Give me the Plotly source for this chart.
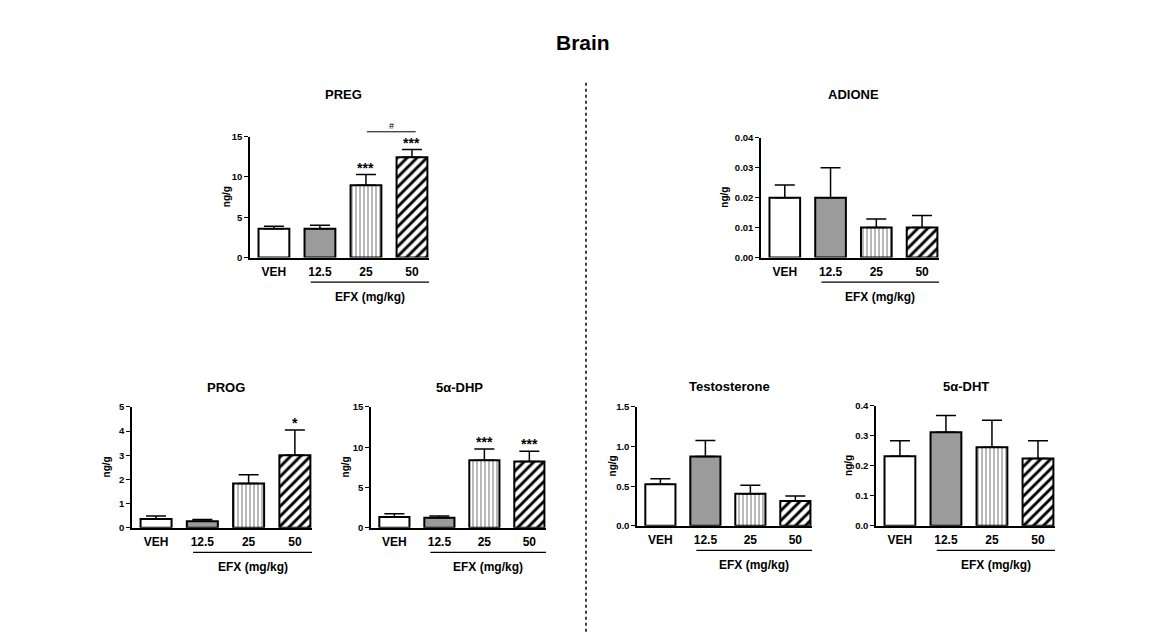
import plotly.graph_objects as go

# ---------------- data ----------------
categories = ["VEH", "12.5", "25", "50"]

preg_mean = [3.57, 3.57, 8.98, 12.44]
preg_sem = [0.33, 0.43, 1.32, 0.96]
preg_sig = ["", "", "***", "***"]

adione_mean = [0.020, 0.020, 0.010, 0.010]
adione_sem = [0.0042, 0.010, 0.0029, 0.0040]
adione_sig = ["", "", "", ""]

prog_mean = [0.37, 0.27, 1.83, 3.00]
prog_sem = [0.12, 0.07, 0.37, 1.05]
prog_sig = ["", "", "", "*"]

dhp_mean = [1.35, 1.26, 8.40, 8.23]
dhp_sem = [0.40, 0.21, 1.38, 1.27]
dhp_sig = ["", "", "***", "***"]

testo_mean = [0.525, 0.876, 0.405, 0.314]
testo_sem = [0.070, 0.202, 0.107, 0.062]
testo_sig = ["", "", "", ""]

dht_mean = [0.232, 0.312, 0.262, 0.225]
dht_sem = [0.052, 0.056, 0.090, 0.059]
dht_sig = ["", "", "", ""]

titles = ["PREG", "ADIONE", "PROG", "5α-DHP", "Testosterone", "5α-DHT"]
ymaxes = [15, 0.04, 5, 15, 1.5, 0.4]
dticks = [5, 0.01, 1, 5, 0.5, 0.1]
tickformats = ["d", ".2f", "d", "d", ".1f", ".1f"]
xlabel = "EFX (mg/kg)"
ylabel = "ng/g"
main_title = "Brain"

# ---------------- geometry (pixels) ----------------
W, H = 1163, 637
# (axis x left, axis x right, y top, y bottom, title x center, title y, ylabel x)
geom = [
    (250, 429, 133, 256, 343, 90, 226),
    (761, 939, 134, 256, 853, 90, 725),
    (132, 312, 408, 531, 226, 388, 106),
    (371, 546, 408, 531, 460, 388, 345),
    (637, 812, 408, 529, 729, 387, 612),
    (876, 1055, 407, 529, 966, 387, 849),
]
XR = (-0.52, 3.37)


def px(x):
    return x / W


def py(y):
    return 1 - y / H


def data_to_px(g, xv):
    x0, x1 = g[0], g[1]
    return x0 + (xv - XR[0]) / (XR[1] - XR[0]) * (x1 - x0)


FONT = "Arial, 'Liberation Sans', sans-serif"

means = [preg_mean, adione_mean, prog_mean, dhp_mean, testo_mean, dht_mean]
sems = [preg_sem, adione_sem, prog_sem, dhp_sem, testo_sem, dht_sem]
sigs = [preg_sig, adione_sig, prog_sig, dhp_sig, testo_sig, dht_sig]

# per-group style
group_styles = [
    dict(color="white"),
    dict(color="#9b9b9b"),
    dict(color="white", pattern=dict(shape="|", fgcolor="#8a8a8a", bgcolor="white",
                                     size=4, solidity=0.3, fillmode="replace")),
    dict(color="white", pattern=dict(shape="/", fgcolor="black", bgcolor="white",
                                     size=7, solidity=0.42, fillmode="replace")),
]

fig = go.Figure()
annotations = []
shapes = []

for i in range(6):
    g = geom[i]
    xa = "x" if i == 0 else f"x{i+1}"
    ya = "y" if i == 0 else f"y{i+1}"
    xl = "xaxis" if i == 0 else f"xaxis{i+1}"
    yl = "yaxis" if i == 0 else f"yaxis{i+1}"

    for j in range(len(categories)):
        mk = dict(group_styles[j])
        mk["line"] = dict(color="black", width=2)
        fig.add_trace(go.Bar(
            x=[j], y=[means[i][j]], width=0.67,
            marker=mk,
            error_y=dict(type="data", array=[sems[i][j]], arrayminus=[0],
                         symmetric=False, color="black", thickness=1.5, width=10),
            xaxis=xa, yaxis=ya, showlegend=False, cliponaxis=False,
            name=categories[j],
        ))

    fig.layout[xl] = dict(
        domain=[px(g[0]), px(g[1])], range=list(XR), anchor=ya,
        showline=True, linecolor="black", linewidth=1.5,
        showgrid=False, zeroline=False,
        tickmode="array", tickvals=list(range(4)), ticktext=categories,
        ticks="outside", ticklen=2, tickcolor="rgba(0,0,0,0)",
        tickfont=dict(family=FONT, size=12, color="black", weight="bold"),
        fixedrange=True,
    )
    fig.layout[yl] = dict(
        domain=[py(g[3]), py(g[2])], range=[0, ymaxes[i]], anchor=xa,
        showline=True, linecolor="black", linewidth=1.5,
        showgrid=False, zeroline=False,
        dtick=dticks[i], tick0=0, tickformat=tickformats[i],
        ticks="outside", ticklen=4, tickwidth=1.2, tickcolor="black",
        tickfont=dict(family=FONT, size=9.5, color="black", weight="bold"),
        fixedrange=True,
    )

    # panel title
    annotations.append(dict(
        text=titles[i], x=px(g[4]), y=py(g[5]), xref="paper", yref="paper",
        xanchor="center", yanchor="middle", showarrow=False,
        font=dict(family=FONT, size=13, color="black", weight="bold")))
    # y label
    annotations.append(dict(
        text=ylabel, x=px(g[6]), y=py((g[2] + g[3]) / 2), xref="paper", yref="paper",
        xanchor="center", yanchor="middle", showarrow=False, textangle=-90,
        font=dict(family=FONT, size=10, color="black", weight="bold")))
    # EFX underline and label
    ux0 = data_to_px(g, 0.8)
    ux1 = g[1]
    uy = g[3] + 25
    shapes.append(dict(type="line", xref="paper", yref="paper",
                       x0=px(ux0), x1=px(ux1), y0=py(uy), y1=py(uy),
                       line=dict(color="black", width=1.2)))
    annotations.append(dict(
        text=xlabel, x=px((ux0 + ux1) / 2), y=py(uy + 15), xref="paper", yref="paper",
        xanchor="center", yanchor="middle", showarrow=False,
        font=dict(family=FONT, size=12, color="black", weight="bold")))
    # significance stars
    for j, s in enumerate(sigs[i]):
        if s:
            annotations.append(dict(
                text=s, x=j, y=means[i][j] + sems[i][j], xref=xa, yref=ya,
                xanchor="center", yanchor="bottom", showarrow=False, yshift=-3,
                font=dict(family=FONT, size=14, color="black", weight="bold")))

# '#' bracket between 25 and 50 in PREG
g = geom[0]
bx0 = data_to_px(g, 2.02)
bx1 = data_to_px(g, 3.08)
shapes.append(dict(type="line", xref="paper", yref="paper",
                   x0=px(bx0), x1=px(bx1), y0=py(128), y1=py(128),
                   line=dict(color="black", width=1)))
annotations.append(dict(
    text="#", x=px((bx0 + bx1) / 2), y=py(122), xref="paper", yref="paper",
    xanchor="center", yanchor="middle", showarrow=False,
    font=dict(family=FONT, size=9, color="black")))

# central dashed divider
shapes.append(dict(type="line", xref="paper", yref="paper",
                   x0=px(586), x1=px(586), y0=py(78), y1=0,
                   line=dict(color="black", width=1.5, dash="3px,3px")))

# main title
annotations.append(dict(
    text=main_title, x=px(583), y=py(37), xref="paper", yref="paper",
    xanchor="center", yanchor="middle", showarrow=False,
    font=dict(family=FONT, size=21, color="black", weight="bold")))

fig.update_layout(
    width=W, height=H, margin=dict(l=0, r=0, t=0, b=0),
    paper_bgcolor="white", plot_bgcolor="white", barmode="overlay",
    annotations=annotations, shapes=shapes,
)

fig.write_html("out.html")
